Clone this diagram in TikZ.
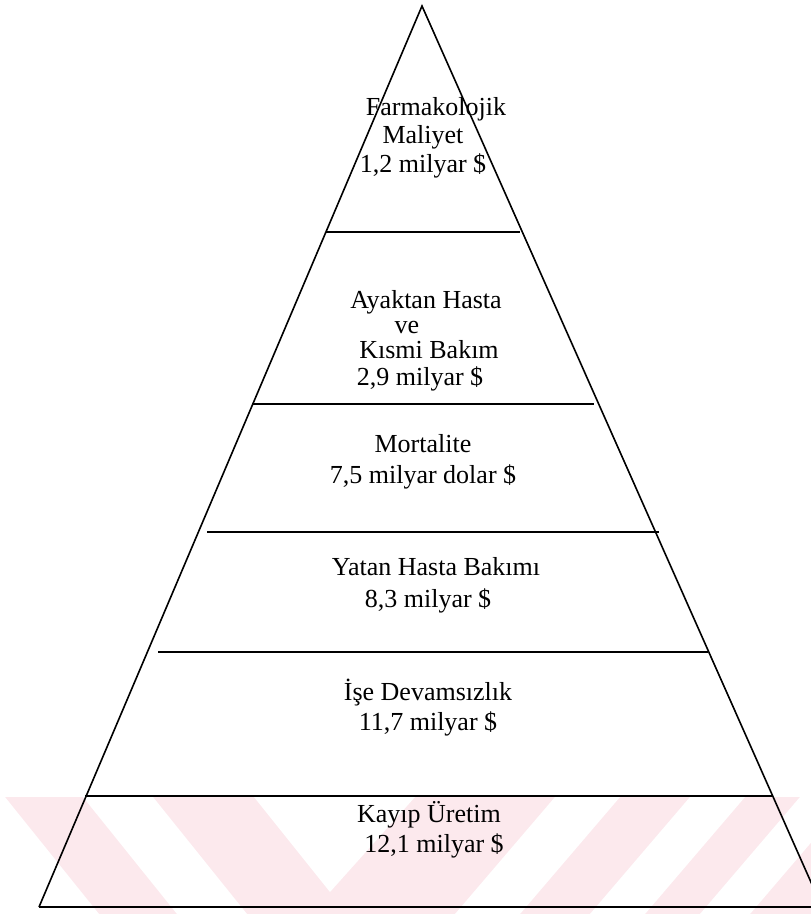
\documentclass[tikz,border=0pt]{standalone}
\usepackage{fontspec}
\setmainfont{Liberation Serif}
\usetikzlibrary{positioning}
\definecolor{markpink}{RGB}{252,233,237}

\begin{document}
\begin{tikzpicture}[x=1pt,y=-1pt,
		edge/.style={line width=1.6pt,line join=miter},
		lbl/.style={anchor=base,inner sep=0pt,font=\fontsize{26}{30}\selectfont}]
			\useasboundingbox (0,0) rectangle (811,914);
			\fill[markpink] (0,797) rectangle (811,914);
			\fill[white] (0,797) -- (5,797) -- (99,914) -- (0,914) -- cycle;
			\fill[white] (83,797) -- (153,797) -- (247,914) -- (177,914) -- cycle;
			\fill[white] (254,797) -- (415,797) -- (330,892) -- cycle;
			\fill[white] (555,797) -- (620,797) -- (520,914) -- (455,914) -- cycle;
			\fill[white] (690,797) -- (745,797) -- (645,914) -- (590,914) -- cycle;
			\fill[white] (800,797) -- (850,797) -- (750,914) -- (700,914) -- cycle;
			\coordinate (top) at (422,6);
			\coordinate (bl) at (39,907);
			\coordinate (br) at (822,907);
			\coordinate (b1l) at (326,232);
			\coordinate (b1r) at (520,232);
			\coordinate (b2l) at (252,404);
			\coordinate (b2r) at (594,404);
			\coordinate (b3l) at (207,532);
			\coordinate (b3r) at (659,532);
			\coordinate (b4l) at (158,652);
			\coordinate (b4r) at (708,652);
			\coordinate (b5l) at (85,796);
			\coordinate (b5r) at (773,796);
			\begin{scope}
				\clip (0,0) rectangle (811,914);
				\draw[edge] (bl) -- (top) -- (br);
				\draw[edge] (bl) -- (br);
			\end{scope}
			\draw[edge] (b1l) -- (b1r);
			\draw[edge] (b2l) -- (b2r);
			\draw[edge] (b3l) -- (b3r);
			\draw[edge] (b4l) -- (b4r);
			\draw[edge] (b5l) -- (b5r);
			\node[lbl] (farma1) at (436,115) {Farmakolojik};
			\node[lbl] (farma2) at (423,143) {Maliyet};
			\node[lbl] (farma3) at (423,172) {1,2 milyar \$};
			\node[lbl] (ayak1) at (426,308) {Ayaktan Hasta};
			\node[lbl] (ayak2) at (407,333) {ve};
			\node[lbl] (ayak3) at (429,358) {Kısmi Bakım};
			\node[lbl] (ayak4) at (420,385) {2,9 milyar \$};
			\node[lbl] (mort1) at (423,452) {Mortalite};
			\node[lbl] (mort2) at (423,483) {7,5 milyar dolar \$};
			\node[lbl] (yatan1) at (436,575) {Yatan Hasta Bakımı};
			\node[lbl] (yatan2) at (428,607) {8,3 milyar \$};
			\node[lbl] (ise1) at (428,700) {İşe Devamsızlık};
			\node[lbl] (ise2) at (428,730) {11,7 milyar \$};
			\node[lbl] (kayip1) at (429,822) {Kayıp Üretim};
			\node[lbl] (kayip2) at (434,852) {12,1 milyar \$};
		\end{tikzpicture}
\end{document}
